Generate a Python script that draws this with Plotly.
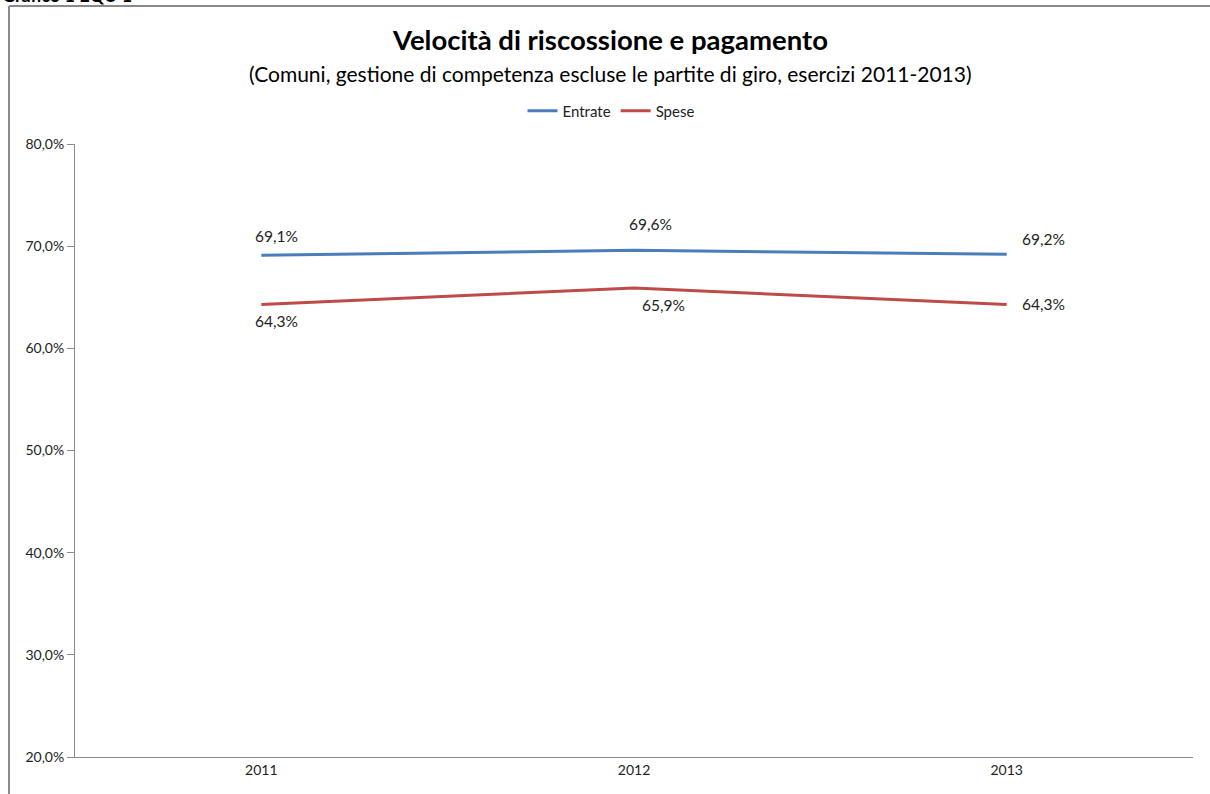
import plotly.graph_objects as go

categories = ["2011", "2012", "2013"]
entrate = [69.1, 69.6, 69.2]
spese = [64.3, 65.9, 64.3]
y_ticks = [20, 30, 40, 50, 60, 70, 80]

title = "Velocità di riscossione e pagamento"
subtitle = "(Comuni, gestione di competenza escluse le partite di giro, esercizi 2011-2013)"
corner_label = "Grafico 1 EQU 1"

BLUE = "#4A7EBB"
RED = "#BE4B48"
FONT = "Lato, 'Noto Sans', sans-serif"

W, H = 1210, 794
ML, MR, MT, MB = 75, 17, 144, 37
PH = H - MT - MB
PW = W - ML - MR


def py(pix):
    return 1 + (MT - pix) / PH


def px(pix):
    return (pix - ML) / PW


def fmt(v):
    return f"{v:.1f}".replace(".", ",") + "%"


xpos = list(range(len(categories)))

fig = go.Figure()
fig.add_trace(go.Scatter(x=xpos, y=entrate, mode="lines", name="Entrate",
                         line=dict(color=BLUE, width=3)))
fig.add_trace(go.Scatter(x=xpos, y=spese, mode="lines", name="Spese",
                         line=dict(color=RED, width=3)))

ent_offsets = [(15, 19, "center"), (16, 26, "center"), (13, 15, "left")]
spe_offsets = [(15, -17, "center"), (29, -17, "center"), (13, 0, "left")]
annotations = []
for vals, offs in ((entrate, ent_offsets), (spese, spe_offsets)):
    for i, v in enumerate(vals):
        dx, dy, xa = offs[i]
        annotations.append(dict(x=xpos[i], y=v, xref="x", yref="y", text=fmt(v), showarrow=False,
                                xshift=dx, yshift=dy, xanchor=xa, yanchor="middle",
                                font=dict(size=15.5, color="#222", family=FONT)))

annotations.append(dict(x=px(610), y=py(40), xref="paper", yref="paper", text="<b>" + title + "</b>",
                        showarrow=False, xanchor="center", yanchor="middle",
                        font=dict(size=27.5, color="#000", family=FONT)))
annotations.append(dict(x=px(610), y=py(73), xref="paper", yref="paper", text=subtitle,
                        showarrow=False, xanchor="center", yanchor="middle",
                        font=dict(size=21, color="#000", family=FONT)))
annotations.append(dict(x=px(0), y=py(-5), xref="paper", yref="paper", text="<b>" + corner_label + "</b>",
                        showarrow=False, xanchor="left", yanchor="middle",
                        font=dict(size=18, color="#000", family=FONT)))

border = dict(color="#8a8a8a", width=2)
fig.update_layout(
    width=W, height=H,
    margin=dict(l=ML, r=MR, t=MT, b=MB),
    paper_bgcolor="white", plot_bgcolor="white",
    font=dict(family=FONT, size=14, color="#222"),
    showlegend=True,
    legend=dict(orientation="h", x=px(611), xanchor="center", y=py(111), yanchor="middle",
                font=dict(size=15, color="#222"), tracegroupgap=0),
    annotations=annotations,
    shapes=[
        dict(type="line", xref="paper", yref="paper", x0=px(9), x1=px(1215),
             y0=py(6), y1=py(6), line=border, layer="above"),
        dict(type="line", xref="paper", yref="paper", x0=px(9), x1=px(9),
             y0=py(6), y1=py(800), line=border, layer="above"),
    ],
)

fig.update_xaxes(range=[-0.5, 2.5], tickvals=xpos, ticktext=categories,
                 showline=True, linecolor="#8a8a8a", linewidth=1, showgrid=False, zeroline=False,
                 ticks="", tickfont=dict(size=14, color="#222"))
fig.update_yaxes(range=[20, 80], tickvals=y_ticks, ticktext=[fmt(v) for v in y_ticks],
                 showline=True, linecolor="#8a8a8a", linewidth=1, showgrid=False, zeroline=False,
                 ticks="outside", ticklen=7, tickcolor="#8a8a8a", tickfont=dict(size=14, color="#222"))

fig.write_html("out.html", config={"displayModeBar": False},
               post_script="document.body.style.margin='0';document.body.style.padding='0';")
